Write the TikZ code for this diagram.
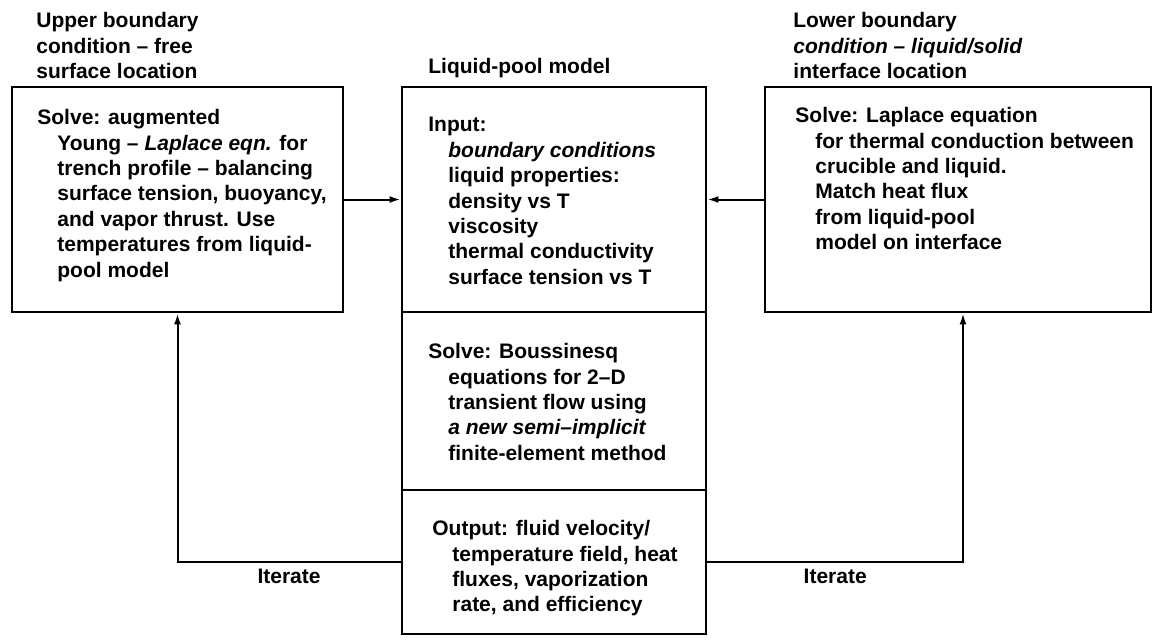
\documentclass[tikz,border=0pt]{standalone}
\usepackage{fontspec}
\setmainfont{Liberation Sans}
\usetikzlibrary{arrows.meta,positioning}
\newcommand{\inset}{\hspace*{10pt}}

\begin{document}
\begin{tikzpicture}[
    x=0.5pt, y=-0.5pt,
    every node/.style={font=\fontsize{10.5}{12.7}\selectfont\bfseries, inner sep=0pt},
    block/.style={draw, line width=1.4pt},
    body/.style={anchor=north west, align=left},
    conn/.style={line width=1pt, -{Latex[length=5.5pt,width=3.5pt]}}
  ]
  \useasboundingbox (0,0) rectangle (1155,639);

  % Boxes: upper boundary, liquid-pool model (three parts), lower boundary
  \node[block, minimum width=165.5pt, minimum height=112.5pt] (upper)  at (177.5,199.5) {};
  \node[block, minimum width=152pt,   minimum height=112.5pt] (input)  at (554,199.5) {};
  \node[block, minimum width=152pt,   minimum height=89pt]    (solve)  at (554,401) {};
  \node[block, minimum width=152pt,   minimum height=72pt]    (output) at (554,562) {};
  \node[block, minimum width=193pt,   minimum height=112.5pt] (lower)  at (958,199.5) {};
  \coordinate (lowerfoot) at ([xshift=2.5pt]lower.south);

  % Headings above the boxes
  \node[body] (upperhead) at (36,12)  {Upper boundary\\condition -- free\\surface location};
  \node[body] (poolhead)  at (428,58) {Liquid-pool model};
  \node[body] (lowerhead) at (793,12) {Lower boundary\\\textit{condition -- liquid/solid}\\interface location};

  % Box contents
  \node[body] (uppertext) at (37,109) {Solve: augmented\\
    \inset Young -- \textit{Laplace eqn.} for\\
    \inset trench profile -- balancing\\
    \inset surface tension, buoyancy,\\
    \inset and vapor thrust. Use\\
    \inset temperatures from liquid-\\
    \inset pool model};
  \node[body] (inputtext) at (428,117) {Input:\\
    \inset \textit{boundary conditions}\\
    \inset liquid properties:\\
    \inset density vs T\\
    \inset viscosity\\
    \inset thermal conductivity\\
    \inset surface tension vs T};
  \node[body] (solvetext) at (428,343) {Solve: Boussinesq\\
    \inset equations for 2--D\\
    \inset transient flow using\\
    \inset \textit{a new semi--implicit}\\
    \inset finite-element method};
  \node[body] (outputtext) at (432,520) {Output: fluid velocity/\\
    \inset temperature field, heat\\
    \inset fluxes, vaporization\\
    \inset rate, and efficiency};
  \node[body] (lowertext) at (795,107) {Solve: Laplace equation\\
    \inset for thermal conduction between\\
    \inset crucible and liquid.\\
    \inset Match heat flux\\
    \inset from liquid-pool\\
    \inset model on interface};

  % Boundary conditions feed the pool model
  \draw[conn] (upper.east) -- (input.west);
  \draw[conn] (lower.west) -- (input.east);

  % Iteration loops back to the boundary models
  \draw[conn] (output.west) -| node[pos=0.25, below=3pt] (iterleft) {Iterate} (upper.south);
  \draw[conn] (output.east) -| node[pos=0.25, below=3pt] (iterright) {Iterate} (lowerfoot);
\end{tikzpicture}
\end{document}
